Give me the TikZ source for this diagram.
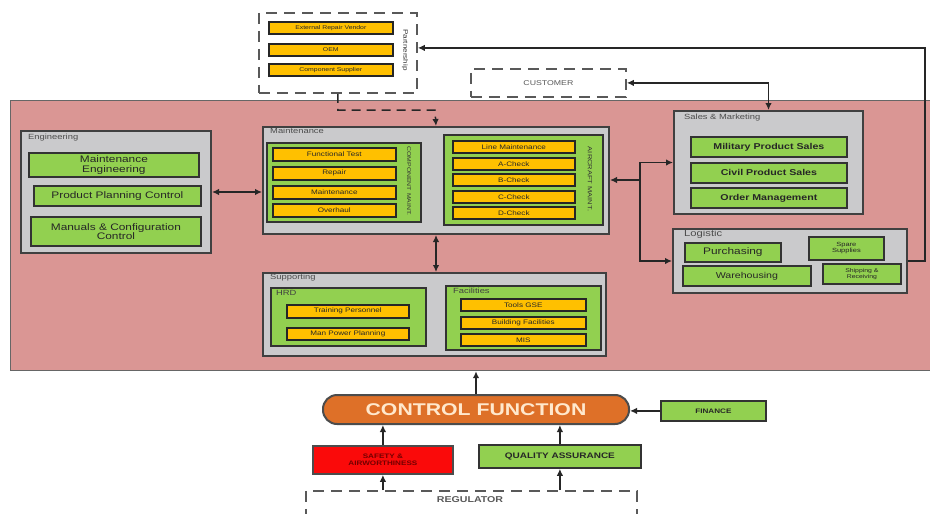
\documentclass[tikz,border=0pt]{standalone}
\usepackage{fontspec}
\setmainfont{Liberation Sans}[FakeStretch=1.25]
\usetikzlibrary{arrows.meta}
\definecolor{pinkbg}{RGB}{218,150,148}
\definecolor{grayb}{RGB}{202,202,204}
\definecolor{greenb}{RGB}{146,208,80}
\definecolor{yellowb}{RGB}{255,192,0}
\definecolor{redb}{RGB}{250,10,10}
\definecolor{orangeb}{RGB}{222,112,40}
\definecolor{cream}{RGB}{255,232,205}
\newcommand\fs[1]{\fontsize{#1}{#1}\selectfont}
\newcommand\rect[7]{%
  \pgfmathsetmacro\rw{#5-#3}\pgfmathsetmacro\rh{#6-#4}%
  \node[#1, minimum width=\rw pt, minimum height=\rh pt, anchor=north west] (#2) at (#3,#4) {#7};}
\tikzset{
  grp/.style={draw=black!75, line width=2pt, fill=grayb, inner sep=0pt},
  gbox/.style={draw=black!80, line width=1.8pt, fill=greenb, align=center, inner sep=0pt, text=black!85},
  ybox/.style={draw=black!85, line width=1.6pt, fill=yellowb, align=center, inner sep=0pt, font=\fs{6.5}, text=black!85},
  ttl/.style={anchor=north west, inner sep=0pt, text=black!70, font=\fs{7.5}},
  vlab/.style={rotate=-90, inner sep=0pt, font=\fs{6}, text=black!80},
  dbox/.style={draw=black!65, dash pattern=on 11pt off 7pt, line width=1.8pt, fill=white, inner sep=0pt},
  arr/.style={-{Latex[length=7pt,width=6.5pt]}, line width=1.5pt, draw=black!85},
  darr/.style={{Latex[length=7pt,width=6.5pt]}-{Latex[length=7pt,width=6.5pt]}, line width=1.5pt, draw=black!85},
}
\begin{document}
\begin{tikzpicture}[x=1pt,y=-1pt]
\clip (0,0) rectangle (930,514);
\fill[white] (0,0) rectangle (930,514);
% background
\rect{fill=pinkbg, draw=black!60, line width=1.2pt}{bg}{10}{100}{931}{370}{}
% partnership
\rect{dbox}{part}{258}{12}{416}{92}{}
\rect{ybox, font=\fs{5.5}}{p1}{268}{21}{392}{33}{External Repair Vendor}
\rect{ybox, font=\fs{5.5}}{p2}{268}{43}{392}{55}{OEM}
\rect{ybox, font=\fs{5.5}}{p3}{268}{63}{392}{75}{Component Supplier}
\node[vlab, font=\fs{6.5}] (plab) at (405,50) {Partnership};
% customer
\rect{dbox}{cust}{470}{68}{625}{96}{\fs{7}\color{black!65}CUSTOMER}
% engineering
\rect{grp}{eng}{20}{130}{210}{252}{}
\node[ttl] (engt) at (28,134) {Engineering};
\rect{gbox, font=\fs{9.5}}{e1}{28}{152}{198}{176}{Maintenance\\Engineering}
\rect{gbox, font=\fs{9.5}}{e2}{33}{185}{200}{205}{Product Planning Control}
\rect{gbox, font=\fs{9.5}}{e3}{30}{216}{200}{245}{Manuals \& Configuration\\Control}
% maintenance
\rect{grp}{mt}{262}{126}{608}{233}{}
\node[ttl] (mtt) at (270,128) {Maintenance};
\rect{gbox}{cm}{266}{142}{420}{221}{}
\rect{ybox}{c1}{272}{147}{395}{160}{Functional Test}
\rect{ybox}{c2}{272}{166}{395}{179}{Repair}
\rect{ybox}{c3}{272}{185}{395}{198}{Maintenance}
\rect{ybox}{c4}{272}{203}{395}{216}{Overhaul}
\node[vlab, font=\fs{5.5}] (cml) at (409,181) {COMPONENT MAINT.};
\rect{gbox}{am}{443}{134}{602}{224}{}
\rect{ybox}{a1}{452}{140}{574}{152}{Line Maintenance}
\rect{ybox}{a2}{452}{157}{574}{169}{A-Check}
\rect{ybox}{a3}{452}{173}{574}{185}{B-Check}
\rect{ybox}{a4}{452}{190}{574}{202}{C-Check}
\rect{ybox}{a5}{452}{206}{574}{218}{D-Check}
\node[vlab] (aml) at (590,179) {AIRCRAFT MAINT.};
% sales
\rect{grp}{sales}{673}{110}{862}{213}{}
\node[ttl] (salest) at (684,114) {Sales \& Marketing};
\rect{gbox, font=\bfseries\fs{8.5}}{s1}{690}{136}{846}{156}{Military Product Sales}
\rect{gbox, font=\bfseries\fs{8.5}}{s2}{690}{162}{846}{182}{Civil Product Sales}
\rect{gbox, font=\bfseries\fs{8.5}}{s3}{690}{187}{846}{207}{Order Management}
% logistic
\rect{grp}{logi}{672}{228}{906}{292}{}
\node[ttl, font=\fs{9}] (logit) at (684,230) {Logistic};
\rect{gbox, font=\fs{9.5}}{l1}{684}{242}{780}{261}{Purchasing}
\rect{gbox, font=\fs{6}}{l2}{808}{236}{883}{259}{Spare\\Supplies}
\rect{gbox, font=\fs{8.5}}{l3}{682}{265}{810}{285}{Warehousing}
\rect{gbox, font=\fs{5.5}}{l4}{822}{263}{900}{283}{Shipping \&\\Receiving}
% supporting
\rect{grp}{sup}{262}{272}{605}{355}{}
\node[ttl] (supt) at (270,274) {Supporting};
\rect{gbox}{hrd}{270}{287}{425}{345}{}
\node[ttl, text=black!75] (hrdt) at (276,290) {HRD};
\rect{ybox}{h1}{286}{304}{408}{317}{Training Personnel}
\rect{ybox}{h2}{286}{327}{408}{339}{Man Power Planning}
\rect{gbox}{fac}{445}{285}{600}{349}{}
\node[ttl, text=black!75] (fact) at (453,288) {Facilities};
\rect{ybox}{f1}{460}{298}{585}{310}{Tools GSE}
\rect{ybox}{f2}{460}{316}{585}{328}{Building Facilities}
\rect{ybox}{f3}{460}{333}{585}{345}{MIS}
% control section
\rect{draw=black!70, line width=2pt, fill=orangeb, rounded corners=14pt, inner sep=0pt}{cf}{322}{394}{628}{423}{\bfseries\fs{17}\color{cream}CONTROL FUNCTION}
\rect{gbox, font=\bfseries\fs{6.5}}{fin}{660}{400}{765}{420}{FINANCE}
\rect{draw=black!70, line width=1.8pt, fill=redb, inner sep=0pt, align=center, font=\bfseries\fs{6.5}, text=red!45!black}{saf}{312}{445}{452}{473}{SAFETY \&\\AIRWORTHINESS}
\rect{gbox, font=\bfseries\fs{8}}{qa}{478}{444}{640}{467}{QUALITY ASSURANCE}
\rect{dbox}{reg}{305}{490}{636}{530}{}
\node[inner sep=0pt, font=\bfseries\fs{8.5}, text=black!65] (regt) at (470,500) {REGULATOR};
% connectors
\coordinate (rc) at (925,0);
\draw[arr] (logi.east) -- (logi.east -| rc) |- ([yshift=5pt]part.east);
\draw[darr] (cust.east) -| (sales.north);
\coordinate (pm) at (435,110);
\draw[arr, dash pattern=on 9pt off 6pt] (part.south) |- (pm) -- (mt.north);
\draw[darr] (eng.east) -- (eng.east -| mt.west);
\coordinate (br) at (640,180);
\draw[arr] (br) -- (br -| mt.east);
\draw[arr] (br) |- (sales.west);
\draw[arr] (br) |- (logi.west);
\draw[darr] (mt.south) -- (mt.south |- sup.north);
\draw[arr] (cf.north) -- (cf.north |- bg.south);
\draw[arr] (fin.west) -- (fin.west -| cf.east);
\draw[arr] (saf.north) -- (saf.north |- cf.south);
\draw[arr] (qa.north) -- (qa.north |- cf.south);
\draw[arr] (reg.north -| saf.south) -- (saf.south);
\draw[arr] (reg.north -| qa.south) -- (qa.south);
\end{tikzpicture}
\end{document}
